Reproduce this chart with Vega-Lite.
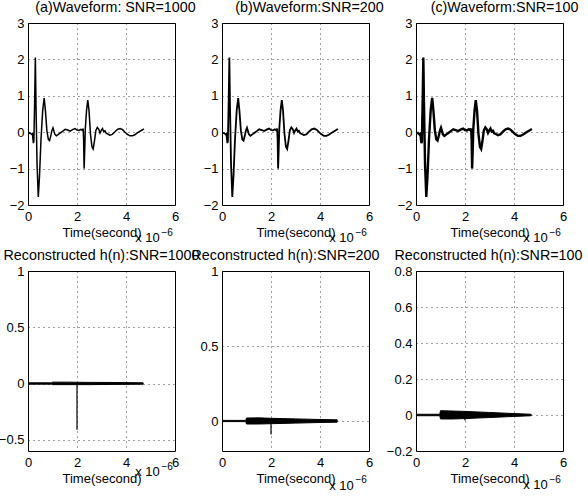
{
  "$schema": "https://vega.github.io/schema/vega-lite/v6.json",
  "background": "white",
  "padding": {"left": -3, "top": 0, "right": 0, "bottom": 0},
  "config": {
    "font": "Liberation Sans",
    "view": {"stroke": "black", "strokeWidth": 1, "fill": "white"},
    "axis": {
      "domain": false,
      "ticks": false,
      "grid": true,
      "gridColor": "black",
      "gridDash": [1, 4],
      "gridWidth": 1,
      "gridOpacity": 0.75,
      "tickCount": 12,
      "labelFont": "Liberation Sans",
      "labelFontSize": 13,
      "labelColor": "black",
      "labelFlush": false,
      "labelOverlap": false,
      "titleFont": "Liberation Sans",
      "titleFontSize": 13,
      "titleFontWeight": "normal",
      "titleColor": "black"
    },
    "axisX": {"labelPadding": 5, "titlePadding": 3},
    "axisY": {"labelPadding": 4},
    "title": {"font": "Liberation Sans", "fontSize": 14.3, "fontWeight": "normal", "color": "black", "offset": 2, "anchor": "middle"},
    "text": {"font": "Liberation Sans", "color": "black"}
  },
  "datasets": {
    "wave": [
      {"t": 0.0, "v": -0.03}, {"t": 0.08, "v": -0.02}, {"t": 0.14, "v": -0.06}, {"t": 0.18, "v": -0.04},
      {"t": 0.22, "v": -0.3}, {"t": 0.24, "v": -0.25}, {"t": 0.27, "v": 0.8}, {"t": 0.3, "v": 2.05},
      {"t": 0.33, "v": 0.6}, {"t": 0.37, "v": -0.9}, {"t": 0.42, "v": -1.78}, {"t": 0.47, "v": -1.2},
      {"t": 0.53, "v": -0.2}, {"t": 0.6, "v": 0.6}, {"t": 0.66, "v": 0.94}, {"t": 0.71, "v": 0.6},
      {"t": 0.77, "v": 0.05}, {"t": 0.83, "v": -0.2}, {"t": 0.88, "v": -0.23}, {"t": 0.93, "v": -0.1},
      {"t": 0.98, "v": 0.05}, {"t": 1.02, "v": 0.12}, {"t": 1.06, "v": 0.03}, {"t": 1.1, "v": -0.06},
      {"t": 1.16, "v": -0.1}, {"t": 1.24, "v": -0.06}, {"t": 1.32, "v": -0.02}, {"t": 1.42, "v": 0.03},
      {"t": 1.52, "v": 0.08}, {"t": 1.62, "v": 0.06}, {"t": 1.72, "v": 0.03}, {"t": 1.82, "v": 0.07},
      {"t": 1.92, "v": 0.1}, {"t": 2.0, "v": 0.06}, {"t": 2.08, "v": 0.05}, {"t": 2.16, "v": 0.08},
      {"t": 2.22, "v": 0.05}, {"t": 2.25, "v": 0.1}, {"t": 2.27, "v": -0.2}, {"t": 2.29, "v": -1.0},
      {"t": 2.31, "v": -0.6}, {"t": 2.34, "v": 0.1}, {"t": 2.39, "v": 0.6}, {"t": 2.44, "v": 0.88},
      {"t": 2.49, "v": 0.6}, {"t": 2.55, "v": -0.05}, {"t": 2.61, "v": -0.4}, {"t": 2.66, "v": -0.46},
      {"t": 2.71, "v": -0.25}, {"t": 2.77, "v": 0.05}, {"t": 2.83, "v": 0.13}, {"t": 2.89, "v": 0.08},
      {"t": 2.94, "v": -0.02}, {"t": 2.99, "v": 0.05}, {"t": 3.04, "v": 0.1}, {"t": 3.09, "v": 0.02},
      {"t": 3.14, "v": 0.04}, {"t": 3.19, "v": -0.03}, {"t": 3.26, "v": -0.05}, {"t": 3.34, "v": -0.08},
      {"t": 3.44, "v": -0.06}, {"t": 3.56, "v": 0.02}, {"t": 3.66, "v": 0.08}, {"t": 3.76, "v": 0.1},
      {"t": 3.86, "v": 0.07}, {"t": 3.96, "v": 0.0}, {"t": 4.06, "v": -0.06}, {"t": 4.16, "v": -0.1},
      {"t": 4.26, "v": -0.1}, {"t": 4.36, "v": -0.07}, {"t": 4.46, "v": -0.02}, {"t": 4.56, "v": 0.02},
      {"t": 4.66, "v": 0.06}, {"t": 4.73, "v": 0.09}
    ],
    "recon": [
      {"snr": 1000, "t": 0.0, "lo": -0.006, "hi": 0.006},
      {"snr": 1000, "t": 0.97, "lo": -0.006, "hi": 0.006},
      {"snr": 1000, "t": 1.0, "lo": -0.01, "hi": 0.012},
      {"snr": 1000, "t": 1.5, "lo": -0.01, "hi": 0.012},
      {"snr": 1000, "t": 2.5, "lo": -0.01, "hi": 0.01},
      {"snr": 1000, "t": 3.5, "lo": -0.008, "hi": 0.009},
      {"snr": 1000, "t": 4.7, "lo": -0.006, "hi": 0.006},
      {"snr": 200, "t": 0.0, "lo": -0.004, "hi": 0.004},
      {"snr": 200, "t": 0.97, "lo": -0.004, "hi": 0.004},
      {"snr": 200, "t": 1.0, "lo": -0.02, "hi": 0.02},
      {"snr": 200, "t": 1.5, "lo": -0.02, "hi": 0.021},
      {"snr": 200, "t": 2.0, "lo": -0.018, "hi": 0.018},
      {"snr": 200, "t": 2.5, "lo": -0.016, "hi": 0.016},
      {"snr": 200, "t": 3.0, "lo": -0.014, "hi": 0.014},
      {"snr": 200, "t": 3.5, "lo": -0.012, "hi": 0.012},
      {"snr": 200, "t": 4.0, "lo": -0.01, "hi": 0.01},
      {"snr": 200, "t": 4.7, "lo": -0.008, "hi": 0.008},
      {"snr": 100, "t": 0.0, "lo": -0.004, "hi": 0.004},
      {"snr": 100, "t": 0.97, "lo": -0.004, "hi": 0.004},
      {"snr": 100, "t": 1.0, "lo": -0.022, "hi": 0.024},
      {"snr": 100, "t": 1.5, "lo": -0.022, "hi": 0.022},
      {"snr": 100, "t": 2.0, "lo": -0.02, "hi": 0.02},
      {"snr": 100, "t": 2.5, "lo": -0.017, "hi": 0.017},
      {"snr": 100, "t": 3.0, "lo": -0.014, "hi": 0.014},
      {"snr": 100, "t": 3.5, "lo": -0.011, "hi": 0.011},
      {"snr": 100, "t": 4.0, "lo": -0.008, "hi": 0.008},
      {"snr": 100, "t": 4.7, "lo": -0.004, "hi": 0.004}
    ],
    "spikes": [
      {"snr": 1000, "t": 2.0, "top": 0, "bottom": -0.41},
      {"snr": 200, "t": 2.0, "top": 0, "bottom": -0.09},
      {"snr": 100, "t": 2.0, "top": 0, "bottom": -0.03}
    ]
  },
  "columns": 3,
  "bounds": "flush",
  "spacing": {"row": 66, "column": 47},
  "concat": [
    {
      "title": {"text": "(a)Waveform: SNR=1000", "dx": 14},
      "width": 147, "height": 182,
      "layer": [
        {
          "data": {"name": "wave"},
          "mark": {"type": "line", "color": "black", "strokeWidth": 1.5, "clip": true},
          "encoding": {
            "x": {"field": "t", "type": "quantitative", "scale": {"domain": [0, 6]}, "axis": {"values": [0, 2, 4, 6], "format": "~g", "title": "Time(second)"}},
            "y": {"field": "v", "type": "quantitative", "scale": {"domain": [-2, 3]}, "axis": {"values": [-2, -1, 0, 1, 2, 3], "format": "~g", "title": null}}
          }
        },
        {"data": {"values": [{}]}, "mark": {"type": "text", "align": "right", "baseline": "middle", "fontSize": 13}, "encoding": {"x": {"datum": 5.38}, "y": {"datum": -2.92}, "text": {"value": "x 10"}}},
        {"data": {"values": [{}]}, "mark": {"type": "text", "align": "left", "baseline": "middle", "fontSize": 10}, "encoding": {"x": {"datum": 5.45}, "y": {"datum": -2.76}, "text": {"value": "−6"}}}
      ]
    },
    {
      "title": {"text": "(b)Waveform:SNR=200", "dx": 14},
      "width": 147, "height": 182,
      "layer": [
        {
          "data": {"name": "wave"},
          "mark": {"type": "line", "color": "black", "strokeWidth": 1.8, "clip": true},
          "encoding": {
            "x": {"field": "t", "type": "quantitative", "scale": {"domain": [0, 6]}, "axis": {"values": [0, 2, 4, 6], "format": "~g", "title": "Time(second)"}},
            "y": {"field": "v", "type": "quantitative", "scale": {"domain": [-2, 3]}, "axis": {"values": [-2, -1, 0, 1, 2, 3], "format": "~g", "title": null}}
          }
        },
        {"data": {"values": [{}]}, "mark": {"type": "text", "align": "right", "baseline": "middle", "fontSize": 13}, "encoding": {"x": {"datum": 5.38}, "y": {"datum": -2.92}, "text": {"value": "x 10"}}},
        {"data": {"values": [{}]}, "mark": {"type": "text", "align": "left", "baseline": "middle", "fontSize": 10}, "encoding": {"x": {"datum": 5.45}, "y": {"datum": -2.76}, "text": {"value": "−6"}}}
      ]
    },
    {
      "title": {"text": "(c)Waveform:SNR=100", "dx": 15},
      "width": 147, "height": 182,
      "layer": [
        {
          "data": {"name": "wave"},
          "mark": {"type": "line", "color": "black", "strokeWidth": 2.4, "clip": true},
          "encoding": {
            "x": {"field": "t", "type": "quantitative", "scale": {"domain": [0, 6]}, "axis": {"values": [0, 2, 4, 6], "format": "~g", "title": "Time(second)"}},
            "y": {"field": "v", "type": "quantitative", "scale": {"domain": [-2, 3]}, "axis": {"values": [-2, -1, 0, 1, 2, 3], "format": "~g", "title": null}}
          }
        },
        {"data": {"values": [{}]}, "mark": {"type": "text", "align": "right", "baseline": "middle", "fontSize": 13}, "encoding": {"x": {"datum": 5.38}, "y": {"datum": -2.92}, "text": {"value": "x 10"}}},
        {"data": {"values": [{}]}, "mark": {"type": "text", "align": "left", "baseline": "middle", "fontSize": 10}, "encoding": {"x": {"datum": 5.45}, "y": {"datum": -2.76}, "text": {"value": "−6"}}}
      ]
    },
    {
      "title": {"text": "Reconstructed h(n):SNR=1000", "dx": 0},
      "width": 147, "height": 180,
      "layer": [
        {
          "data": {"name": "recon"},
          "transform": [{"filter": "datum.snr == 1000"}],
          "mark": {"type": "area", "color": "black", "stroke": "black", "strokeWidth": 1, "clip": true},
          "encoding": {
            "x": {"field": "t", "type": "quantitative", "scale": {"domain": [0, 6]}, "axis": {"values": [0, 2, 4, 6], "format": "~g", "title": "Time(second)"}},
            "y": {"field": "lo", "type": "quantitative", "scale": {"domain": [-0.5, 1]}, "axis": {"values": [-0.5, 0, 0.5, 1], "format": "~g", "title": null}},
            "y2": {"field": "hi"}
          }
        },
        {
          "data": {"name": "spikes"},
          "transform": [{"filter": "datum.snr == 1000"}],
          "mark": {"type": "rule", "color": "black", "strokeWidth": 1.2},
          "encoding": {"x": {"field": "t", "type": "quantitative"}, "y": {"field": "top", "type": "quantitative"}, "y2": {"field": "bottom"}}
        },
        {"data": {"values": [{}]}, "mark": {"type": "text", "align": "right", "baseline": "middle", "fontSize": 13}, "encoding": {"x": {"datum": 5.38}, "y": {"datum": -0.79}, "text": {"value": "x 10"}}},
        {"data": {"values": [{}]}, "mark": {"type": "text", "align": "left", "baseline": "middle", "fontSize": 10}, "encoding": {"x": {"datum": 5.45}, "y": {"datum": -0.745}, "text": {"value": "−6"}}}
      ]
    },
    {
      "title": {"text": "Reconstructed h(n):SNR=200", "dx": -10},
      "width": 147, "height": 180,
      "layer": [
        {
          "data": {"name": "recon"},
          "transform": [{"filter": "datum.snr == 200"}],
          "mark": {"type": "area", "color": "black", "stroke": "black", "strokeWidth": 1, "clip": true},
          "encoding": {
            "x": {"field": "t", "type": "quantitative", "scale": {"domain": [0, 6]}, "axis": {"values": [0, 2, 4, 6], "format": "~g", "title": "Time(second)"}},
            "y": {"field": "lo", "type": "quantitative", "scale": {"domain": [-0.2, 1]}, "axis": {"values": [0, 0.5, 1], "format": "~g", "title": null}},
            "y2": {"field": "hi"}
          }
        },
        {
          "data": {"name": "spikes"},
          "transform": [{"filter": "datum.snr == 200"}],
          "mark": {"type": "rule", "color": "black", "strokeWidth": 1.2},
          "encoding": {"x": {"field": "t", "type": "quantitative"}, "y": {"field": "top", "type": "quantitative"}, "y2": {"field": "bottom"}}
        },
        {"data": {"values": [{}]}, "mark": {"type": "text", "align": "right", "baseline": "middle", "fontSize": 13}, "encoding": {"x": {"datum": 5.38}, "y": {"datum": -0.43}, "text": {"value": "x 10"}}},
        {"data": {"values": [{}]}, "mark": {"type": "text", "align": "left", "baseline": "middle", "fontSize": 10}, "encoding": {"x": {"datum": 5.45}, "y": {"datum": -0.394}, "text": {"value": "−6"}}}
      ]
    },
    {
      "title": {"text": "Reconstructed h(n):SNR=100", "dx": -1},
      "width": 147, "height": 180,
      "layer": [
        {
          "data": {"name": "recon"},
          "transform": [{"filter": "datum.snr == 100"}],
          "mark": {"type": "area", "color": "black", "stroke": "black", "strokeWidth": 1, "clip": true},
          "encoding": {
            "x": {"field": "t", "type": "quantitative", "scale": {"domain": [0, 6]}, "axis": {"values": [0, 2, 4, 6], "format": "~g", "title": "Time(second)"}},
            "y": {"field": "lo", "type": "quantitative", "scale": {"domain": [-0.2, 0.8]}, "axis": {"values": [-0.2, 0, 0.2, 0.4, 0.6, 0.8], "format": "~g", "title": null}},
            "y2": {"field": "hi"}
          }
        },
        {
          "data": {"name": "spikes"},
          "transform": [{"filter": "datum.snr == 100"}],
          "mark": {"type": "rule", "color": "black", "strokeWidth": 1.2},
          "encoding": {"x": {"field": "t", "type": "quantitative"}, "y": {"field": "top", "type": "quantitative"}, "y2": {"field": "bottom"}}
        },
        {"data": {"values": [{}]}, "mark": {"type": "text", "align": "right", "baseline": "middle", "fontSize": 13}, "encoding": {"x": {"datum": 5.38}, "y": {"datum": -0.39}, "text": {"value": "x 10"}}},
        {"data": {"values": [{}]}, "mark": {"type": "text", "align": "left", "baseline": "middle", "fontSize": 10}, "encoding": {"x": {"datum": 5.45}, "y": {"datum": -0.36}, "text": {"value": "−6"}}}
      ]
    }
  ]
}
